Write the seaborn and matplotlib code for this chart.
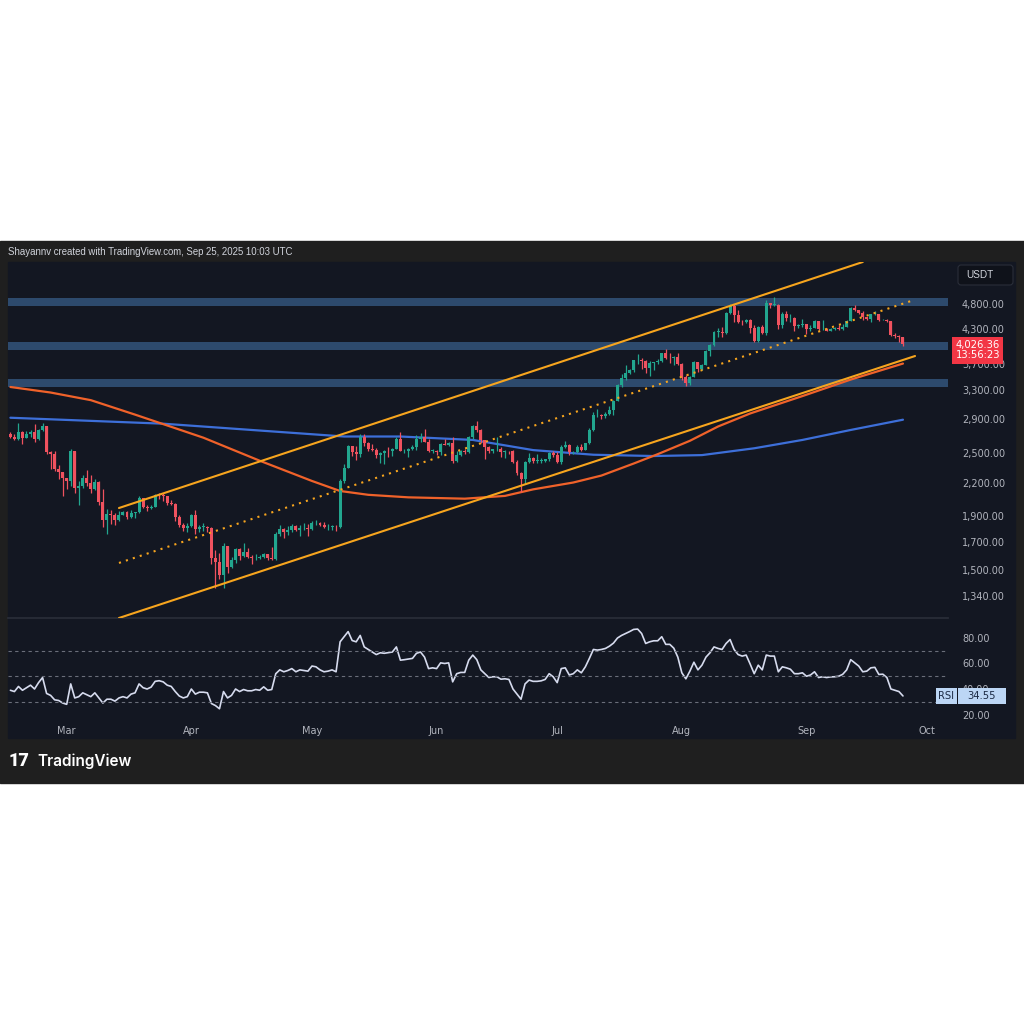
import numpy as np
import pandas as pd
import matplotlib
matplotlib.use('Agg')
import matplotlib.pyplot as plt
import matplotlib.transforms as mtransforms
from matplotlib.patches import Rectangle, FancyBboxPatch
from matplotlib.ticker import NullLocator, NullFormatter
import seaborn as sns

sns.set_theme(style='dark')
plt.rcParams['font.family'] = ['DejaVu Sans']

# ETH/USDT diario, 15 fev -> 25 set 2025
inicio = pd.Timestamp('2025-02-15')
abertura_inicial = 2725

fechamento = [
    2690, 2660, 2745, 2670, 2715, 2740, 2660, 2765, 2820, 2510, 2490, 2330, 2305, 2240,  # fev
    2215, 2520, 2150, 2170, 2240, 2200, 2140, 2205, 2020, 1865, 1920, 1910, 1865, 1910, 1935, 1890,
    1925, 1930, 2055, 1980, 1965, 1980, 2085, 2080, 2070, 2010, 2000, 1895, 1830, 1800, 1820,  # mar
    1905, 1795, 1815, 1815, 1805, 1580, 1555, 1470, 1670, 1520, 1570, 1645, 1595, 1625, 1590,
    1580, 1585, 1590, 1610, 1585, 1575, 1755, 1795, 1770, 1785, 1820, 1790, 1800, 1800, 1795,  # abr
    1840, 1840, 1830, 1810, 1815, 1815, 1810, 2210, 2345, 2585, 2515, 2495, 2680, 2610, 2550, 2540,
    2480, 2500, 2530, 2525, 2550, 2660, 2525, 2530, 2550, 2565, 2660, 2680, 2630, 2530, 2530,  # mai
    2510, 2605, 2595, 2610, 2420, 2480, 2525, 2510, 2680, 2820, 2770, 2645, 2575, 2525, 2545,
    2545, 2510, 2525, 2520, 2410, 2290, 2230, 2410, 2450, 2420, 2420, 2420, 2435, 2500, 2485,  # jun
    2405, 2570, 2590, 2510, 2515, 2570, 2540, 2615, 2770, 2950, 2955, 2940, 2970, 3015, 3140, 3370,
    3475, 3550, 3590, 3755, 3760, 3735, 3625, 3710, 3720, 3745, 3870, 3795, 3790, 3810, 3700,  # jul
    3485, 3395, 3495, 3720, 3610, 3680, 3910, 4010, 4255, 4255, 4230, 4620, 4750, 4570, 4440, 4435,
    4475, 4315, 4075, 4340, 4225, 4830, 4780, 4780, 4375, 4600, 4510, 4510, 4360, 4375, 4390,  # ago
    4310, 4325, 4450, 4300, 4300, 4270, 4305, 4310, 4305, 4350, 4460, 4715, 4670, 4605, 4525,
    4500, 4590, 4590, 4470, 4480, 4450, 4200, 4165, 4155, 4026.36,  # set
]

maxima = [
    2740, 2725, 2850, 2760, 2760, 2765, 2845, 2780, 2855, 2820, 2530, 2530, 2370, 2300,
    2240, 2550, 2520, 2210, 2275, 2320, 2270, 2230, 2210, 2140, 1960, 1950, 1925, 1945, 1945, 1945,
    1955, 1935, 2070, 2060, 1990, 1995, 2090, 2105, 2105, 2070, 2040, 2010, 1905, 1845, 1840,
    1920, 1955, 1830, 1840, 1820, 1815, 1640, 1620, 1690, 1670, 1590, 1655, 1650, 1690, 1650,
    1600, 1610, 1600, 1615, 1600, 1660, 1775, 1830, 1800, 1820, 1835, 1830, 1830, 1845, 1835,
    1860, 1870, 1850, 1850, 1835, 1830, 1830, 2230, 2390, 2590, 2585, 2580, 2720, 2720, 2630, 2600,
    2560, 2510, 2540, 2570, 2560, 2690, 2740, 2550, 2560, 2590, 2710, 2730, 2780, 2660, 2545,
    2540, 2610, 2660, 2630, 2680, 2520, 2540, 2550, 2700, 2830, 2880, 2780, 2650, 2580, 2550,
    2680, 2570, 2540, 2530, 2540, 2425, 2300, 2420, 2500, 2460, 2490, 2450, 2440, 2510, 2520,
    2510, 2590, 2640, 2600, 2520, 2590, 2600, 2620, 2790, 3000, 3030, 2970, 3000, 3080, 3150, 3390,
    3530, 3670, 3610, 3760, 3860, 3790, 3755, 3740, 3730, 3770, 3880, 3940, 3880, 3820, 3870,
    3710, 3520, 3510, 3740, 3730, 3700, 3920, 4030, 4260, 4320, 4340, 4640, 4790, 4790, 4680, 4480,
    4500, 4490, 4380, 4360, 4380, 4880, 4830, 4950, 4790, 4630, 4660, 4600, 4540, 4400, 4490,
    4390, 4380, 4480, 4460, 4480, 4320, 4330, 4340, 4385, 4390, 4470, 4730, 4770, 4680, 4660,
    4530, 4600, 4650, 4600, 4500, 4490, 4450, 4230, 4190, 4160,
]

minimas = [
    2670, 2650, 2650, 2600, 2670, 2690, 2630, 2650, 2750, 2490, 2330, 2310, 2230, 2075,
    2140, 2170, 2100, 1995, 2150, 2170, 2100, 2130, 1990, 1810, 1755, 1835, 1830, 1860, 1905, 1875,
    1880, 1885, 1925, 1965, 1945, 1960, 1975, 2050, 2030, 1995, 1990, 1860, 1810, 1780, 1775,
    1810, 1760, 1775, 1780, 1775, 1540, 1385, 1440, 1390, 1480, 1515, 1550, 1570, 1590, 1580,
    1540, 1565, 1575, 1580, 1565, 1565, 1570, 1740, 1730, 1750, 1775, 1780, 1740, 1790, 1740,
    1790, 1830, 1820, 1800, 1785, 1790, 1780, 1800, 2200, 2340, 2470, 2430, 2460, 2580, 2520, 2530,
    2450, 2400, 2390, 2460, 2470, 2550, 2520, 2500, 2460, 2540, 2540, 2630, 2630, 2510, 2500,
    2485, 2485, 2590, 2580, 2400, 2410, 2465, 2490, 2500, 2660, 2740, 2620, 2440, 2500, 2500,
    2530, 2460, 2450, 2490, 2400, 2270, 2110, 2190, 2400, 2400, 2400, 2400, 2410, 2420, 2460,
    2400, 2390, 2560, 2480, 2490, 2500, 2530, 2535, 2600, 2760, 2930, 2910, 2920, 2960, 2950, 3140,
    3340, 3440, 3530, 3570, 3690, 3610, 3550, 3500, 3600, 3690, 3720, 3780, 3710, 3680, 3680,
    3450, 3355, 3370, 3490, 3570, 3590, 3670, 3830, 3990, 4160, 4160, 4210, 4600, 4440, 4420, 4380,
    4420, 4220, 4060, 4060, 4210, 4200, 4720, 4760, 4310, 4320, 4450, 4440, 4270, 4320, 4350,
    4210, 4270, 4320, 4280, 4290, 4260, 4270, 4280, 4290, 4280, 4340, 4450, 4650, 4600, 4480,
    4470, 4440, 4570, 4450, 4470, 4440, 4180, 4140, 4070, 3990,
]

rsi = [
    39, 38, 42, 39, 41, 43, 40, 45, 49, 36.5, 35, 31.5, 31, 29,
    28, 44, 33, 34, 37, 35.5, 34, 37, 33, 29, 32, 32, 30.5, 33, 34, 33,
    36, 37, 44, 41, 40, 41.5, 46, 46.5, 45.6, 43, 42, 38, 34.5, 33, 34,
    40, 36, 37.5, 37.5, 37, 28.6, 27, 24.5, 38, 33, 35, 40, 38, 39.6, 38.6,
    38.6, 39.6, 39, 41.7, 39, 39.6, 52, 55, 53.5, 54.5, 56, 53.5, 55, 54.5, 54,
    58, 57.4, 55, 53.5, 54, 55, 53.5, 77, 81, 85, 78, 77, 82, 73, 71, 69,
    67, 68.4, 68, 68.5, 69, 73, 62.6, 63, 63.5, 64, 68, 69, 65, 56, 56.6,
    56, 60.5, 60, 60.5, 45.6, 52, 53, 53, 62.6, 66.6, 63, 55, 52, 49, 49.6,
    49.6, 47.7, 48, 47.5, 40, 36, 32, 44, 47, 46, 46, 46.4, 47.5, 52, 49.6,
    45, 56, 56.6, 51, 52, 55, 52.7, 57.4, 64, 71, 70.5, 71, 71.8, 73.6, 76, 80,
    82, 83.5, 85, 86.7, 87, 83.5, 75.7, 77, 77.8, 77.8, 81, 75, 75, 72, 65,
    52.7, 48, 54, 61, 55, 58.7, 65, 68.4, 73, 71.8, 71, 75.7, 78.8, 71, 67, 65.8,
    66.6, 59.5, 52, 58.7, 55, 66.6, 65.8, 65.8, 53.5, 57.4, 56.6, 55.5, 52, 52, 52.7,
    50, 51, 53.5, 49, 49.6, 49, 49.5, 49.6, 50, 51.5, 55, 63, 60.5, 58, 53.5,
    54, 56.6, 57, 51.4, 51.6, 49, 40, 39, 38, 34.55,
]

# medias moveis (datas de amostra)
ma100_datas = ['2025-02-15', '2025-02-25', '2025-03-07', '2025-03-18', '2025-04-04', '2025-04-18',
               '2025-05-01', '2025-05-08', '2025-05-15', '2025-05-25', '2025-06-08', '2025-06-18',
               '2025-06-25', '2025-07-05', '2025-07-12', '2025-07-20', '2025-07-26', '2025-08-03',
               '2025-08-10', '2025-08-18', '2025-08-31', '2025-09-12', '2025-09-25']
ma100_valores = [3340, 3260, 3153, 2960, 2676, 2420, 2215, 2120, 2085, 2062, 2050, 2075,
                 2135, 2200, 2268, 2390, 2490, 2640, 2810, 2975, 3210, 3450, 3700]

ma200_datas = ['2025-02-15', '2025-03-25', '2025-04-16', '2025-05-09', '2025-05-23', '2025-06-10',
               '2025-06-25', '2025-07-10', '2025-07-25', '2025-08-06', '2025-08-19', '2025-08-31',
               '2025-09-12', '2025-09-25']
ma200_valores = [2920, 2845, 2768, 2690, 2690, 2650, 2535, 2484, 2470, 2480, 2555, 2650, 2768, 2895]

# canal ascendente (data, preco) nas pontas
canal_sup = (['2025-03-14', '2025-09-15'], [1968, 5767])
canal_meio = (['2025-03-14', '2025-09-27'], [1548, 4863])
canal_inf = (['2025-03-14', '2025-09-28'], [1217, 3824])

# zonas horizontais (min, max)
zonas = [(4758, 4927), (3925, 4066), (3339, 3458)]

precos_eixo = [1340, 1500, 1700, 1900, 2200, 2500, 2900, 3300, 3700, 4300, 4800]
meses = ['Mar', 'Apr', 'May', 'Jun', 'Jul', 'Aug', 'Sep', 'Oct']
meses_datas = ['2025-03-01', '2025-04-01', '2025-05-01', '2025-06-01',
               '2025-07-01', '2025-08-01', '2025-09-01', '2025-10-01']


def dia(d):
    return (pd.Timestamp(d) - inicio).days


c = np.array(fechamento, dtype=float)
o = np.r_[abertura_inicial, c[:-1]]
h = np.maximum(np.array(maxima, dtype=float), np.maximum(o, c))
l = np.minimum(np.array(minimas, dtype=float), np.minimum(o, c))
x = np.arange(len(c))

verde = '#22a68f'
vermelho = '#f0525f'
fundo = '#131722'
moldura = '#1f1f1f'
texto = '#b2b5be'
laranja = '#f7a51e'
fonte_ui = ['Liberation Sans', 'DejaVu Sans']

fig = plt.figure(figsize=(10.24, 10.24), dpi=100, facecolor='white')
fig.patches.append(Rectangle((0, 1 - 783 / 1024), 1, 542 / 1024, transform=fig.transFigure,
                             color=moldura, zorder=-10))
fig.patches.append(Rectangle((8 / 1024, 1 - 738 / 1024), 1007 / 1024, 476 / 1024,
                             transform=fig.transFigure, color=fundo, zorder=-9))

ax = fig.add_axes([8 / 1024, 1 - 618 / 1024, 940 / 1024, 356 / 1024], facecolor=fundo)
ax_rsi = fig.add_axes([8 / 1024, 1 - 720 / 1024, 940 / 1024, 100 / 1024], facecolor=fundo, sharex=ax)

# zonas
for z0, z1 in zonas:
    ax.axhspan(z0, z1, color='#2d4a6d', lw=0, zorder=1)

# candles
cores = np.where(c >= o, verde, vermelho)
ax.vlines(x, l, h, colors=cores, lw=0.9, zorder=3)
ax.bar(x, np.maximum(np.abs(c - o), c * 0.002), bottom=np.minimum(o, c), width=0.74,
       color=cores, lw=0, zorder=4)

# medias moveis
sns.lineplot(x=[dia(d) for d in ma200_datas], y=ma200_valores, ax=ax, color='#3d6fd9',
             lw=1.6, estimator=None, sort=False, zorder=2)
sns.lineplot(x=[dia(d) for d in ma100_datas], y=ma100_valores, ax=ax, color='#f0622a',
             lw=1.6, estimator=None, sort=False, zorder=2)

# canal
for datas_c, precos_c, estilo in [(canal_sup[0], canal_sup[1], '-'),
                                  (canal_inf[0], canal_inf[1], '-'),
                                  (canal_meio[0], canal_meio[1], (0, (1, 2.5)))]:
    ax.plot([dia(d) for d in datas_c], precos_c, color=laranja, lw=1.5, ls=estilo, zorder=5)

ax.set_yscale('log')
ax.set_ylim(1217, 5767)
ax.set_xlim(-0.6, 233.2)
ax.yaxis.tick_right()
ax.yaxis.set_minor_locator(NullLocator())
ax.yaxis.set_minor_formatter(NullFormatter())
ax.set_yticks(precos_eixo)
ax.set_yticklabels([f'{p:,.2f}' for p in precos_eixo])
ax.tick_params(axis='y', length=0, pad=10, colors=texto, labelsize=7)
ax.tick_params(axis='x', length=0, labelbottom=False)
ax.set_xlabel('')
ax.set_ylabel('')
ax.grid(False)
for s in ax.spines.values():
    s.set_visible(False)
ax.spines['bottom'].set_visible(True)
ax.spines['bottom'].set_color('#2a2e39')

# etiqueta de preco atual
trans = mtransforms.blended_transform_factory(ax.transAxes, ax.transData)
ax.annotate(f'{c[-1]:,.2f}\n13:56:23', xy=(1.008, c[-1]), xycoords=trans, xytext=(0, -4.5),
            textcoords='offset points', va='center', ha='left', color='white', fontsize=7.2,
            linespacing=1.0, annotation_clip=False, zorder=10,
            bbox=dict(boxstyle='square,pad=0.32', fc='#f23645', ec='none'))

# RSI
sns.lineplot(x=x, y=rsi, ax=ax_rsi, color='#d6dbee', lw=1.2, estimator=None, sort=False)
for nivel in [70, 50, 30]:
    ax_rsi.axhline(nivel, color='#6a6e7a', lw=0.8, ls=(0, (3, 3)))
ax_rsi.set_ylim(15.7, 94.1)
ax_rsi.yaxis.tick_right()
ax_rsi.set_yticks([20, 40, 60, 80])
ax_rsi.set_yticklabels(['20.00', '40.00', '60.00', '80.00'])
ax_rsi.tick_params(axis='y', length=0, pad=10, colors=texto, labelsize=7)
ax_rsi.set_xticks([dia(d) for d in meses_datas])
ax_rsi.set_xticklabels(meses)
ax_rsi.tick_params(axis='x', length=0, pad=4, colors=texto, labelsize=7)
ax_rsi.set_xlabel('')
ax_rsi.set_ylabel('')
ax_rsi.grid(False)
for s in ax_rsi.spines.values():
    s.set_visible(False)

# etiquetas do RSI (caixas azul claro na escala)
trans_r = mtransforms.blended_transform_factory(ax_rsi.transAxes, ax_rsi.transData)
for x0, larg, rotulo in [(0.987, 0.0223, 'RSI'), (1.0106, 0.051, f'{rsi[-1]:.2f}')]:
    ax_rsi.add_patch(Rectangle((x0, rsi[-1] - 6.4), larg, 12.8, transform=trans_r,
                               fc='#bcd6f5', ec='none', clip_on=False, zorder=9))
    ax_rsi.text(x0 + larg / 2, rsi[-1], rotulo, transform=trans_r, va='center', ha='center',
                fontsize=7.2, color='#1c2a44', clip_on=False, zorder=10)

# cabecalho, moeda e logo
fig.text(8 / 1024, 1 - 252 / 1024, 'Shayannv created with TradingView.com, Sep 25, 2025 10:03 UTC',
         color='#d1d4dc', fontsize=6.9, va='center', ha='left', family=fonte_ui)
fig.patches.append(FancyBboxPatch((958 / 1024, 1 - 285 / 1024), 55 / 1024, 20 / 1024,
                                  boxstyle='round,pad=0,rounding_size=0.003',
                                  transform=fig.transFigure, fc='#0f121a', ec='#2a2e39', lw=0.8))
fig.text(966 / 1024, 1 - 275 / 1024, 'USDT', color='#d1d4dc', fontsize=7.2, va='center',
         ha='left', family=fonte_ui)
fig.text(9 / 1024, 1 - 761 / 1024, '17', color='white', fontsize=13, fontweight='heavy',
         va='center', ha='left', family=['Roboto', 'DejaVu Sans'])
fig.text(37 / 1024, 1 - 761 / 1024, 'TradingView', color='white', fontsize=11,
         fontweight='semibold', va='center', ha='left', family=['Inter', 'DejaVu Sans'])

fig.savefig('out.png', dpi=100, facecolor='white')
